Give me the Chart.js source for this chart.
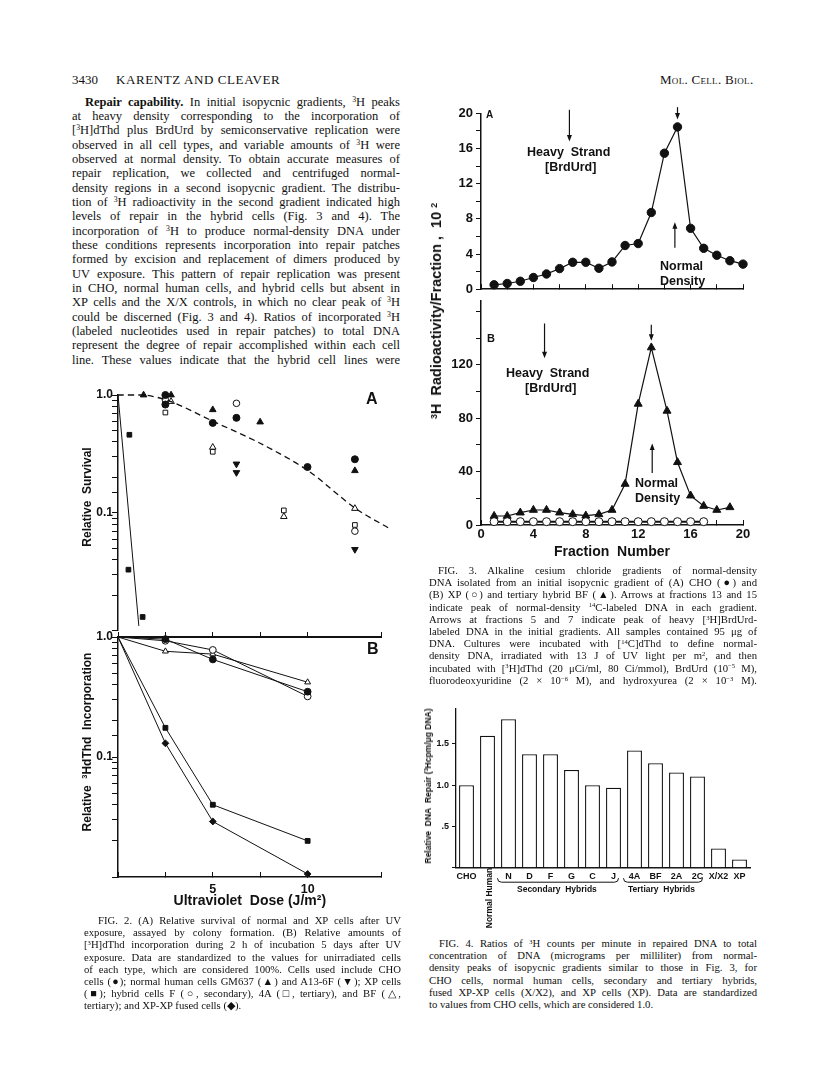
<!DOCTYPE html>
<html>
<head>
<meta charset="utf-8">
<title>Karentz and Cleaver, Fig. 2-4</title>
<script src="https://cdn.jsdelivr.net/npm/chart.js@4.4.1/dist/chart.umd.min.js"></script>
<style>
  body { margin: 0; background: #fff; }
  #page { position: relative; width: 816px; height: 1080px; overflow: hidden; color: #111;
          font-family: "Liberation Serif", "Times New Roman", serif; }
  #page canvas { position: absolute; }
  .blk { position: absolute; }
  .ln { text-align: justify; text-align-last: justify; }
  .ln.end { text-align-last: left; }
  .lbl { position: absolute; white-space: nowrap; font-family: "Liberation Sans", Arial, sans-serif; font-weight: bold; }
  .rot { position: absolute; white-space: nowrap; font-family: "Liberation Sans", Arial, sans-serif; font-weight: bold;
         transform: translate(-50%, -50%) rotate(-90deg); }
  sup { font-size: 0.62em; line-height: 0; vertical-align: 0; position: relative; top: -0.5em; }
</style>
</head>
<body>
<div id="page">

  <div class="blk" style="left:72px;top:72px;font-size:13px;">3430</div>
  <div class="blk" style="left:116px;top:72px;font-size:13px;letter-spacing:0.6px;">KARENTZ AND CLEAVER</div>
  <div class="blk" style="left:660px;top:72px;font-size:13px;font-variant:small-caps;letter-spacing:0.3px;">Mol. Cell. Biol.</div>

  <div class="blk" style="left:72px;top:94.5px;width:328px;font-size:12.5px;line-height:14.35px;">
    <div class="ln" style="text-indent:13px"><b>Repair capability.</b> In initial isopycnic gradients, <sup>3</sup>H peaks</div>
    <div class="ln">at heavy density corresponding to the incorporation of</div>
    <div class="ln">[<sup>3</sup>H]dThd plus BrdUrd by semiconservative replication were</div>
    <div class="ln">observed in all cell types, and variable amounts of <sup>3</sup>H were</div>
    <div class="ln">observed at normal density. To obtain accurate measures of</div>
    <div class="ln">repair replication, we collected and centrifuged normal-</div>
    <div class="ln">density regions in a second isopycnic gradient. The distribu-</div>
    <div class="ln">tion of <sup>3</sup>H radioactivity in the second gradient indicated high</div>
    <div class="ln">levels of repair in the hybrid cells (Fig. 3 and 4). The</div>
    <div class="ln">incorporation of <sup>3</sup>H to produce normal-density DNA under</div>
    <div class="ln">these conditions represents incorporation into repair patches</div>
    <div class="ln">formed by excision and replacement of dimers produced by</div>
    <div class="ln">UV exposure. This pattern of repair replication was present</div>
    <div class="ln">in CHO, normal human cells, and hybrid cells but absent in</div>
    <div class="ln">XP cells and the X/X controls, in which no clear peak of <sup>3</sup>H</div>
    <div class="ln">could be discerned (Fig. 3 and 4). Ratios of incorporated <sup>3</sup>H</div>
    <div class="ln">(labeled nucleotides used in repair patches) to total DNA</div>
    <div class="ln">represent the degree of repair accomplished within each cell</div>
    <div class="ln">line. These values indicate that the hybrid cell lines were</div>
  </div>

  <canvas id="fig2a" width="360" height="257" style="left:40px;top:380px;"></canvas>
  <canvas id="fig2b" width="360" height="290" style="left:40px;top:622px;"></canvas>
  <div class="lbl" style="left:366px;top:390px;font-size:16px;">A</div>
  <div class="lbl" style="left:367px;top:640px;font-size:16px;">B</div>
  <div class="rot" style="left:87px;top:497px;font-size:12px;">Relative&nbsp; Survival</div>
  <div class="rot" style="left:87px;top:742px;font-size:12px;">Relative&nbsp; <sup>3</sup>HdThd&nbsp; Incorporation</div>

  <div class="blk" style="left:84px;top:914px;width:317px;font-size:10.7px;line-height:12.2px;">
    <div class="ln" style="text-indent:14px">FIG. 2. (A) Relative survival of normal and XP cells after UV</div>
    <div class="ln">exposure, assayed by colony formation. (B) Relative amounts of</div>
    <div class="ln">[<sup>3</sup>H]dThd incorporation during 2 h of incubation 5 days after UV</div>
    <div class="ln">exposure. Data are standardized to the values for unirradiated cells</div>
    <div class="ln">of each type, which are considered 100%. Cells used include CHO</div>
    <div class="ln">cells (●); normal human cells GM637 (▲) and A13-6F (▼); XP cells</div>
    <div class="ln">(■); hybrid cells F (○, secondary), 4A (□, tertiary), and BF (△,</div>
    <div class="ln end">tertiary); and XP-XP fused cells (◆).</div>
  </div>

  <canvas id="fig3a" width="345" height="200" style="left:415px;top:100px;"></canvas>
  <canvas id="fig3b" width="345" height="275" style="left:415px;top:290px;"></canvas>
  <div class="lbl" style="left:486px;top:109px;font-size:10px;">A</div>
  <div class="lbl" style="left:487px;top:332px;font-size:11px;">B</div>
  <div class="rot" style="left:436px;top:311px;font-size:14.5px;"><sup>3</sup>H&nbsp; Radioactivity/Fraction ,&nbsp; 10 <sup>2</sup></div>
  <div class="lbl" style="left:527px;top:145px;font-size:12.5px;">Heavy&nbsp; Strand</div>
  <div class="lbl" style="left:545px;top:160px;font-size:12.5px;">[BrdUrd]</div>
  <div class="lbl" style="left:660px;top:259px;font-size:12.5px;">Normal</div>
  <div class="lbl" style="left:660px;top:274px;font-size:12.5px;">Density</div>
  <div class="lbl" style="left:506px;top:366px;font-size:12.5px;">Heavy&nbsp; Strand</div>
  <div class="lbl" style="left:525px;top:381px;font-size:12.5px;">[BrdUrd]</div>
  <div class="lbl" style="left:635px;top:476px;font-size:12.5px;">Normal</div>
  <div class="lbl" style="left:635px;top:491px;font-size:12.5px;">Density</div>

  <div class="blk" style="left:429px;top:564px;width:328px;font-size:10.7px;line-height:12.2px;">
    <div class="ln" style="text-indent:9px">FIG. 3. Alkaline cesium chloride gradients of normal-density</div>
    <div class="ln">DNA isolated from an initial isopycnic gradient of (A) CHO (●) and</div>
    <div class="ln">(B) XP (○) and tertiary hybrid BF (▲). Arrows at fractions 13 and 15</div>
    <div class="ln">indicate peak of normal-density <sup>14</sup>C-labeled DNA in each gradient.</div>
    <div class="ln">Arrows at fractions 5 and 7 indicate peak of heavy [<sup>3</sup>H]BrdUrd-</div>
    <div class="ln">labeled DNA in the initial gradients. All samples contained 95 μg of</div>
    <div class="ln">DNA. Cultures were incubated with [<sup>14</sup>C]dThd to define normal-</div>
    <div class="ln">density DNA, irradiated with 13 J of UV light per m<sup>2</sup>, and then</div>
    <div class="ln">incubated with [<sup>3</sup>H]dThd (20 μCi/ml, 80 Ci/mmol), BrdUrd (10<sup>−5</sup> M),</div>
    <div class="ln">fluorodeoxyuridine (2 × 10<sup>−6</sup> M), and hydroxyurea (2 × 10<sup>−3</sup> M).</div>
  </div>

  <canvas id="fig4" width="345" height="190" style="left:415px;top:700px;"></canvas>
  <div class="rot" style="left:428px;top:786px;font-size:8.5px;">Relative&nbsp; DNA&nbsp; Repair (<sup>3</sup>Hcpm/μg DNA)</div>
  <div class="rot" style="left:489px;top:898px;font-size:8.5px;">Normal Human</div>
  <div class="lbl" style="left:517px;top:884px;font-size:8.5px;">Secondary&nbsp; Hybrids</div>
  <div class="lbl" style="left:628px;top:884px;font-size:8.5px;">Tertiary&nbsp; Hybrids</div>

  <div class="blk" style="left:429px;top:937px;width:328px;font-size:10.7px;line-height:12.2px;">
    <div class="ln" style="text-indent:10px">FIG. 4. Ratios of <sup>3</sup>H counts per minute in repaired DNA to total</div>
    <div class="ln">concentration of DNA (micrograms per milliliter) from normal-</div>
    <div class="ln">density peaks of isopycnic gradients similar to those in Fig. 3, for</div>
    <div class="ln">CHO cells, normal human cells, secondary and tertiary hybrids,</div>
    <div class="ln">fused XP-XP cells (X/X2), and XP cells (XP). Data are standardized</div>
    <div class="ln end">to values from CHO cells, which are considered 1.0.</div>
  </div>
</div>

<script>
// Fig. 2A: relative survival vs UV dose (J/m2)
const normalFitDose = [0, 1.4, 2.8, 5, 7.5, 10, 12.5, 14.3];
const normalFitSurv = [1.0, 1.0, 0.88, 0.6, 0.39, 0.23, 0.11, 0.074];
const xpFitDose = [0, 1.1];
const xpFitSurv = [1.0, 0.011];
const choDoseA = [2.5, 2.5, 5, 6.25, 10, 12.5];
const choSurv = [1.0, 0.83, 0.58, 0.64, 0.245, 0.285];
const gm637Dose = [1.35, 2.8, 5, 7.5, 12.5];
const gm637Surv = [1.0, 1.0, 0.75, 0.59, 0.228];
const a136fDose = [6.25, 6.25, 12.5];
const a136fSurv = [0.26, 0.22, 0.049];
const xpDoseA = [0.6, 0.55, 1.3];
const xpSurv = [0.46, 0.033, 0.0131];
const fDoseA = [2.5, 6.25, 12.5];
const fSurv = [0.91, 0.85, 0.070];
const a4DoseA = [2.5, 5, 8.75, 12.5];
const a4Surv = [0.71, 0.33, 0.105, 0.079];
const bfDoseA = [2.8, 5, 8.75, 12.5];
const bfSurv = [0.88, 0.36, 0.093, 0.109];

// Fig. 2B: relative 3HdThd incorporation
const incDose = [0, 2.5, 5, 10];
const choInc = [1, 0.96, 0.65, 0.35];
const fInc = [1, 0.93, 0.78, 0.32];
const bfInc = [1, 0.76, 0.72, 0.42];
const xpInc = [1, 0.175, 0.04, 0.020];
const xxInc = [1, 0.13, 0.029, 0.0106];

// Fig. 3: 3H per fraction (x 10^2)
const fracA = [1, 2, 3, 4, 5, 6, 7, 8, 9, 10, 11, 12, 13, 14, 15, 16, 17, 18, 19, 20];
const choCounts = [0.5, 0.65, 0.9, 1.33, 1.73, 2.34, 3.06, 3.06, 2.38, 3.1, 4.97, 5.19, 8.72, 15.46, 18.45, 6.92, 4.65, 3.86, 3.24, 2.85];
const fracBF = [1, 2, 3, 4, 5, 6, 7, 8, 9, 10, 11, 12, 13, 14.2, 15, 16, 17, 18, 19];
const bfCounts = [6.75, 6.75, 9.25, 11.25, 11.25, 9.25, 8, 7, 8, 11.25, 30.75, 90.75, 133, 85.5, 47, 22, 14.25, 11.25, 13.25];
const fracXP = [1, 2, 3, 4, 5, 6, 7, 8, 9, 10, 11, 12, 13, 14, 15, 16, 17];
const xpCounts = [2.5, 2.5, 2.5, 2.5, 2.5, 2.5, 2.5, 2.5, 2.5, 2.5, 2.5, 2.5, 2.5, 2.5, 2.5, 2.5, 2.5];
// arrows: fraction, start value, head value
const arrowsA = [{ x: 6.75, from: 20.4, to: 16.8 }, { x: 15, from: 20.7, to: 19.3 }, { x: 14.8, from: 4.7, to: 7.6 }];
const arrowsB = [{ x: 4.85, from: 151, to: 125 }, { x: 13, from: 150, to: 138 }, { x: 13.07, from: 39, to: 61 }];
const labeledCountsB = [0, 40, 80, 120];

// Fig. 4: relative DNA repair
const cellLines = ['CHO', 'Normal Human', 'N', 'D', 'F', 'G', 'C', 'J', '4A', 'BF', '2A', '2C', 'X/X2', 'XP'];
const repair = [1.0, 1.6, 1.8, 1.375, 1.375, 1.185, 1.0, 0.97, 1.42, 1.266, 1.153, 1.105, 0.234, 0.10];
const secondaryHybrids = ['N', 'J'];
const tertiaryHybrids = ['4A', '2C'];

const BLACK = '#111';
const SANS = '"Liberation Sans", Arial, sans-serif';

function pts(xs, ys) { return xs.map((x, i) => ({ x: x, y: ys[i] })); }
function fixWidth(w) { return function (scale) { scale.width = w; }; }
function fixHeight(h) { return function (scale) { scale.height = h; }; }

function markers(data, style, filled, r, rot) {
    return { data: data, clip: false, showLine: false, pointStyle: style, pointRadius: r, pointRotation: rot || 0,
        pointBackgroundColor: filled ? BLACK : '#fff', pointBorderColor: BLACK, pointBorderWidth: 1 };
}
function curve(data, width, dash) {
    return { data: data, clip: false, showLine: true, pointRadius: 0, borderColor: BLACK,
        borderWidth: width, borderDash: dash || [], tension: dash ? 0.3 : 0 };
}
// line through points, no marker at the dose-0 anchor
function series(data, style, filled, rot) {
    const d = markers(data, style, filled, 3.4, rot);
    d.showLine = true; d.borderColor = BLACK; d.borderWidth = 1;
    d.pointRadius = c => (c.raw && c.raw.x === 0) ? 0 : 3.4;
    return d;
}

function baseOptions(padding) {
    return { responsive: false, animation: false, devicePixelRatio: 1,
        layout: { padding: padding },
        plugins: { legend: { display: false }, tooltip: { enabled: false } } };
}

function logAxis() {
    return { type: 'logarithmic', min: 0.01, max: 1, afterFit: fixWidth(78),
        border: { color: BLACK, width: 1.5 },
        grid: { drawOnChartArea: false, color: BLACK, tickLength: 6 },
        ticks: { autoSkip: false, padding: -1, color: BLACK, font: { family: SANS, size: 12, weight: 'bold' },
            callback: v => Math.abs(v - 1) < 1e-9 ? '1.0' : (Math.abs(v - 0.1) < 1e-9 ? '0.1' : '') } };
}

const arrowPlugin = {
    id: 'arrows',
    afterDatasetsDraw(chart, args, opts) {
        const { ctx, scales: { x, y } } = chart;
        ctx.save();
        ctx.strokeStyle = BLACK; ctx.fillStyle = BLACK; ctx.lineWidth = 1.2;
        (opts.list || []).forEach(a => {
            const px = x.getPixelForValue(a.x);
            const y1 = y.getPixelForValue(a.from), y2 = y.getPixelForValue(a.to);
            const dir = Math.sign(y2 - y1);
            ctx.beginPath(); ctx.moveTo(px, y1); ctx.lineTo(px, y2 - dir * 4); ctx.stroke();
            ctx.beginPath(); ctx.moveTo(px, y2); ctx.lineTo(px - 2.5, y2 - dir * 6.5); ctx.lineTo(px + 2.5, y2 - dir * 6.5);
            ctx.closePath(); ctx.fill();
        });
        ctx.restore();
    }
};

const bracketPlugin = {
    id: 'brackets',
    afterDraw(chart, args, opts) {
        const { ctx, chartArea, scales: { x } } = chart;
        const y = chartArea.bottom + 14.5;
        ctx.save();
        ctx.strokeStyle = BLACK; ctx.lineWidth = 1;
        (opts.groups || []).forEach(g => {
            const x1 = x.getPixelForValue(cellLines.indexOf(g[0])) - 11;
            const x2 = x.getPixelForValue(cellLines.indexOf(g[1])) + 5;
            ctx.beginPath();
            ctx.moveTo(x1, y - 4); ctx.quadraticCurveTo(x1, y, x1 + 4, y);
            ctx.lineTo(x2 - 4, y); ctx.quadraticCurveTo(x2, y, x2, y - 4);
            ctx.stroke();
        });
        ctx.restore();
    }
};

// ---- Fig. 2A ----
const opt2a = baseOptions({ top: 15, right: 11, left: 0, bottom: 0 });
opt2a.scales = { x: { type: 'linear', min: 0, max: 14.3, display: false }, y: logAxis() };
new Chart(document.getElementById('fig2a'), {
    type: 'scatter',
    data: { datasets: [
        curve(pts(normalFitDose, normalFitSurv), 1.3, [6, 4]),
        curve(pts(xpFitDose, xpFitSurv), 1),
        markers(pts(xpDoseA, xpSurv), 'rect', true, 3.3),
        markers(pts(choDoseA, choSurv), 'circle', true, 3.5),
        markers(pts(gm637Dose, gm637Surv), 'triangle', true, 3.8),
        markers(pts(a136fDose, a136fSurv), 'triangle', true, 3.8, 180),
        markers(pts(fDoseA, fSurv), 'circle', false, 3.3),
        markers(pts(a4DoseA, a4Surv), 'rect', false, 3.3),
        markers(pts(bfDoseA, bfSurv), 'triangle', false, 3.8)
    ] },
    options: opt2a
});

// ---- Fig. 2B ----
const opt2b = baseOptions({ top: 15, right: 18.4, left: 0, bottom: 0 });
opt2b.scales = {
    x: { type: 'linear', position: 'bottom', min: 0, max: 13.9, afterFit: fixHeight(35),
        border: { color: BLACK, width: 1.5 },
        grid: { drawOnChartArea: false, color: BLACK, tickLength: -5 },
        ticks: { stepSize: 2.5, autoSkip: false, maxRotation: 0, padding: 10, color: BLACK,
            font: { family: SANS, size: 12.5, weight: 'bold' },
            callback: v => (v === 5 || v === 10) ? String(v) : '' },
        title: { display: true, text: 'Ultraviolet  Dose (J/m²)', color: BLACK, padding: { top: 0, bottom: 2 },
            font: { family: SANS, size: 14, weight: 'bold' } } },
    xTop: { type: 'linear', position: 'top', min: 0, max: 13.9, afterFit: fixHeight(0),
        border: { color: BLACK, width: 2 },
        grid: { drawOnChartArea: false, color: BLACK, tickLength: 5 },
        ticks: { display: false, stepSize: 2.5 } },
    y: logAxis()
};
new Chart(document.getElementById('fig2b'), {
    type: 'scatter',
    data: { datasets: [
        series(pts(incDose, choInc), 'circle', true),
        series(pts(incDose, fInc), 'circle', false),
        series(pts(incDose, bfInc), 'triangle', false),
        series(pts(incDose, xpInc), 'rect', true),
        series(pts(incDose, xxInc), 'rectRot', true)
    ] },
    options: opt2b
});

// ---- Fig. 3 ----
function fracAxis(showLabels, height) {
    return { type: 'linear', min: 0, max: 20, afterFit: fixHeight(height),
        border: { color: BLACK, width: 1.5 },
        grid: { drawOnChartArea: false, color: BLACK, tickLength: -5 },
        ticks: { display: showLabels, stepSize: 2, autoSkip: false, maxRotation: 0, padding: 7, color: BLACK,
            font: { family: SANS, size: 13, weight: 'bold' },
            callback: v => v % 4 === 0 ? String(v) : '' } };
}
function countAxis(max, step, labelled) {
    return { type: 'linear', min: 0, max: max, afterFit: fixWidth(66),
        border: { color: BLACK, width: 1.5 },
        grid: { drawOnChartArea: false, color: BLACK, tickLength: 5 },
        ticks: { stepSize: step, includeBounds: false, autoSkip: false, padding: 3, color: BLACK,
            font: { family: SANS, size: 13, weight: 'bold' },
            callback: v => labelled.indexOf(v) >= 0 ? String(v) : '' } };
}

const opt3a = baseOptions({ top: 13.3, right: 17, left: 0, bottom: 0 });
opt3a.scales = { x: fracAxis(false, 2), y: countAxis(20, 2, [0, 4, 8, 12, 16, 20]) };
opt3a.plugins.arrows = { list: arrowsA };
new Chart(document.getElementById('fig3a'), {
    type: 'scatter',
    data: { datasets: [
        Object.assign(markers(pts(fracA, choCounts), 'circle', true, 4.2), { showLine: true, borderColor: BLACK, borderWidth: 1.2 })
    ] },
    options: opt3a,
    plugins: [arrowPlugin]
});

const opt3b = baseOptions({ top: 10.3, right: 17, left: 0, bottom: 0 });
opt3b.scales = { x: fracAxis(true, 40), y: countAxis(168, 20, labeledCountsB) };
opt3b.scales.x.title = { display: true, text: 'Fraction  Number', color: BLACK, padding: { top: 0, bottom: 4 },
    font: { family: SANS, size: 14, weight: 'bold' } };
opt3b.plugins.arrows = { list: arrowsB };
new Chart(document.getElementById('fig3b'), {
    type: 'scatter',
    data: { datasets: [
        Object.assign(markers(pts(fracXP, xpCounts), 'circle', false, 4), { showLine: true, borderColor: BLACK, borderWidth: 2 }),
        Object.assign(markers(pts(fracBF, bfCounts), 'triangle', true, 4.6), { showLine: true, borderColor: BLACK, borderWidth: 1.2 })
    ] },
    options: opt3b,
    plugins: [arrowPlugin]
});

// ---- Fig. 4 ----
const opt4 = baseOptions({ top: 8, right: 10, left: 0, bottom: 0 });
opt4.scales = {
    x: { type: 'category', afterFit: fixHeight(22.3), border: { color: BLACK, width: 1.5 },
        grid: { display: false, drawTicks: false },
        ticks: { autoSkip: false, maxRotation: 0, padding: 3, color: BLACK, font: { family: SANS, size: 9, weight: 'bold' },
            callback: (v, i) => cellLines[i] === 'Normal Human' ? '' : cellLines[i] } },
    y: { type: 'linear', min: 0, max: 1.93, afterFit: fixWidth(41), border: { color: BLACK, width: 1.3 },
        grid: { drawOnChartArea: false, color: BLACK, tickLength: 4 },
        ticks: { stepSize: 0.5, includeBounds: false, padding: 3, color: BLACK, font: { family: SANS, size: 9, weight: 'bold' },
            callback: v => v === 0.5 ? '.5' : (v === 1 ? '1.0' : (v === 1.5 ? '1.5' : '')) } }
};
opt4.plugins.brackets = { groups: [secondaryHybrids, tertiaryHybrids] };
new Chart(document.getElementById('fig4'), {
    type: 'bar',
    data: { labels: cellLines, datasets: [{ data: repair, backgroundColor: '#fff', borderColor: BLACK, borderWidth: 1.3,
        barPercentage: 0.71, categoryPercentage: 1 }] },
    options: opt4,
    plugins: [bracketPlugin]
});
</script>
</body>
</html>
